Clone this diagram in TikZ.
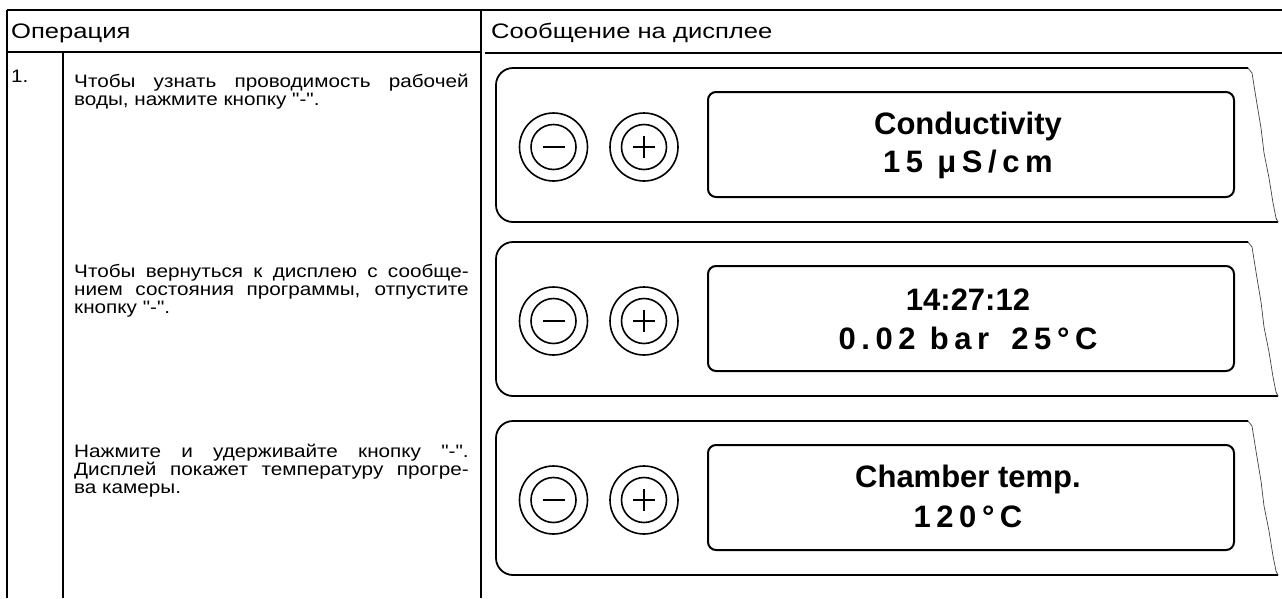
\documentclass[tikz,border=0pt]{standalone}
\usepackage{fontspec}
\setmainfont{Liberation Sans}[Ligatures=TeXOff]
\usepackage{graphicx}
\usetikzlibrary{positioning}

\tikzset{
  rule/.style={line width=1.3pt},
  thickrule/.style={line width=2.6pt},
  case/.style={line width=1.8pt, rounded corners=17pt},
  tear/.style={line width=0.7pt, black!75},
  lcd/.style={draw, line width=2pt, rounded corners=8pt, minimum width=526pt, minimum height=105pt},
  buttonring/.style={draw, circle, line width=1.6pt, minimum size=68pt, inner sep=0pt},
  buttoncore/.style={draw, circle, line width=1.6pt, minimum size=45pt, inner sep=0pt},
  signline/.style={line width=1.6pt},
  lcdtext/.style={inner sep=0pt, font=\fontsize{31}{31}\selectfont\bfseries},
  lcdspaced/.style={inner sep=0pt, font=\fontsize{31}{31}\selectfont\bfseries\addfontfeatures{LetterSpace=18}},
  optext/.style={anchor=north west, inner sep=0pt},
  headtext/.style={anchor=base west, inner sep=0pt, font=\fontsize{21}{24}\selectfont},
}

\newcommand{\wide}[1]{\scalebox{1.15}[1]{#1}}
\newcommand{\opbox}[1]{\wide{\parbox{343pt}{\fontsize{18}{18}\selectfont
  \hyphenpenalty=10000\exhyphenpenalty=10000 #1}}}

% one display panel: name, top edge, first line, second line
\newcommand{\panel}[4]{%
  \draw[case] (1248,#2) -- (496,#2) -- (496,#2+154) -- (1278,#2+154);
  \draw[tear] (1248,#2) -- ++(4,5) -- ++(4,25) -- ++(5,30) -- ++(3,25)
    -- ++(5,25) -- ++(4,25) -- ++(3,15) -- ++(2,4);
  \node[buttonring] (#1minus) at (553.5,#2+79) {};
  \node[buttoncore] (#1minuscore) at (#1minus) {};
  \draw[signline] ([xshift=-11pt]#1minus.center) -- ([xshift=11pt]#1minus.center);
  \node[buttonring] (#1plus) at (644,#2+79) {};
  \node[buttoncore] (#1pluscore) at (#1plus) {};
  \draw[signline] ([xshift=-11pt]#1plus.center) -- ([xshift=11pt]#1plus.center);
  \draw[signline] ([yshift=-11pt]#1plus.center) -- ([yshift=11pt]#1plus.center);
  \node[lcd] (#1lcd) at (971,#2+76.5) {};
  \node[lcdtext] (#1top) at (968,#2+58) {#3};
  \node[lcdspaced] (#1bottom) at (968,#2+96) {#4};
}

\begin{document}
\begin{tikzpicture}[x=1pt,y=-1pt]
  \useasboundingbox (0,0) rectangle (1282,598);

  % table
  \draw[rule] (7,10) -- (1282,10);
  \draw[rule] (7,10) -- (7,598);
  \draw[rule] (481,10) -- (481,598);
  \draw[rule] (63,52) -- (63,598);
  \draw[rule] (7,52) -- (481,52);
  \draw[thickrule] (12,52) -- (58,52);
  \draw[thickrule] (485,53) -- (1282,53);

  \node[headtext] (ophead) at (11,38) {\wide{\scalebox{1.06}[1]{Операция}}};
  \node[headtext] (msghead) at (491,38) {\wide{\scalebox{1.06}[1]{Сообщение на дисплее}}};
  \node[anchor=base west, inner sep=0pt, font=\fontsize{18}{18}\selectfont] (stepno) at (11,82) {\wide{1.}};

  % operation texts
  \node[optext] (op1) at (74,74) {\opbox{Чтобы узнать проводимость рабочей\linebreak воды, нажмите кнопку "-".}};
  \node[optext] (op2) at (74,264) {\opbox{Чтобы вернуться к дисплею с сообще-\linebreak нием состояния программы, отпустите\linebreak кнопку "-".}};
  \node[optext] (op3) at (74,444) {\opbox{Нажмите и удерживайте кнопку "-".\linebreak Дисплей покажет температуру прогре-\linebreak ва камеры.}};

  % displays
  \panel{cond}{68}{Conductivity}{15 μS/cm}
  \panel{state}{242}{14:27:12}{0.02 bar\hspace{8pt} 25°C}
  \panel{temp}{421}{Chamber temp.}{120°C}
\end{tikzpicture}
\end{document}
